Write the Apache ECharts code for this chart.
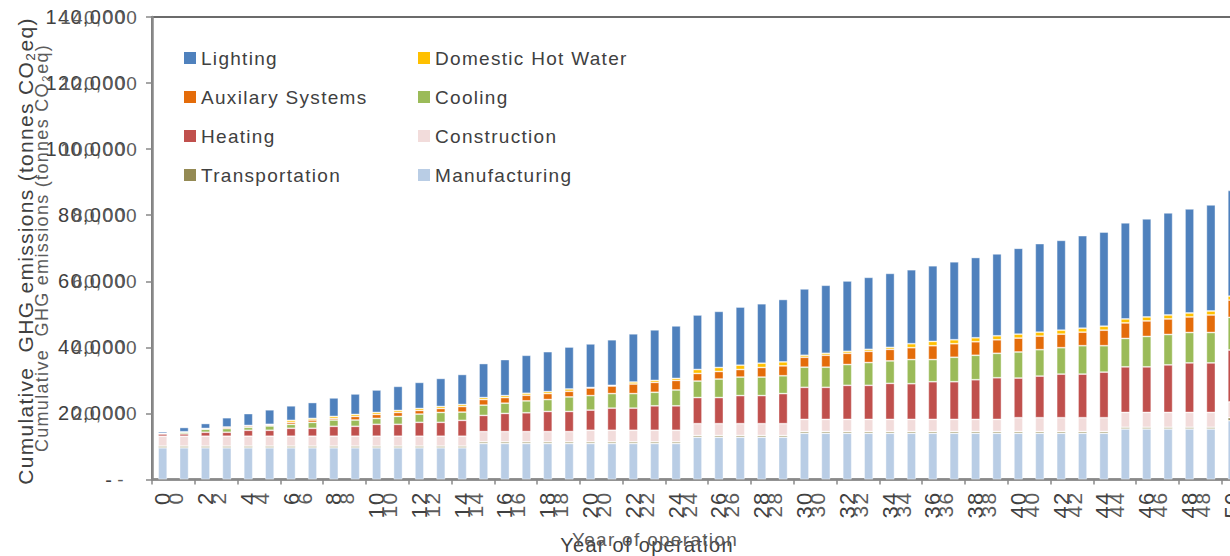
<!DOCTYPE html>
<html>
<head>
<meta charset="utf-8">
<title>Cumulative GHG emissions by year of operation</title>
<script src="https://cdn.jsdelivr.net/npm/echarts@6/dist/echarts.min.js"></script>
<style>
  html, body { margin: 0; padding: 0; background: #ffffff; }
  #chart { width: 1230px; height: 556px; }
  #chart text { letter-spacing: 1.3px; }
</style>
</head>
<body>
<div id="chart"></div>
<script>
// Year of operation (category axis)
const years = ['0','1','2','3','4','5','6','7','8','9','10','11','12','13','14','15','16','17','18','19',
  '20','21','22','23','24','25','26','27','28','29','30','31','32','33','34','35','36','37','38','39',
  '40','41','42','43','44','45','46','47','48','49','50'];

// Value-axis tick labels (0 to 140,000 by 20,000)
const yTickLabels = ['-', '20,000', '40,000', '60,000', '80,000', '100,000', '120,000', '140,000'];

// Cumulative emissions per source, tonnes CO2eq
const manufacturing = [9600,9600,9600,9600,9600,9600,9600,9600,9600,9600,9600,9600,9600,9600,9600,
  10900,10900,10900,10900,10900,10900,10900,10900,10900,10900,
  12800,12800,12800,12800,12800,
  14000,14000,14000,14000,14000,14000,14000,14000,14000,14000,14000,14000,14000,14000,14000,
  15300,15300,15300,15300,15300,17800];
const transportation = [500,500,500,500,500,500,500,500,500,500,500,500,500,500,500,500,500,500,500,500,
  500,500,500,500,500,500,500,500,500,500,500,500,500,500,500,500,500,500,500,500,
  500,500,500,500,500,500,500,500,500,500,900];
const construction = [3000,3000,3000,3000,3000,3000,3000,3000,3000,3000,3000,3000,3000,3000,3000,
  3100,3100,3100,3100,3100,3500,3500,3500,3500,3500,3600,3600,3600,3600,3600,
  3700,3700,3700,3700,3700,3700,3700,3700,3700,3700,4200,4200,4200,4200,4200,
  4500,4500,4500,4500,4500,4800];
const heating = [700,700,1200,1200,1800,1800,2400,2400,3000,3000,3600,3600,4200,4200,4800,
  4900,5500,5700,6100,6100,6100,6700,6700,7400,7400,7900,7900,8500,8500,9100,
  9700,9700,10300,10300,10900,10800,11400,11400,12000,12600,12000,12600,13200,13200,13800,
  13800,13800,14400,15000,15000,15700];
const cooling = [100,500,900,1100,900,1300,1200,1800,1900,1900,1800,2400,2500,3000,2500,
  3100,3100,3600,3600,4400,4400,4400,4400,4100,4800,5000,5600,5600,5600,5400,
  6100,6100,6300,6900,6800,7300,6700,7400,7400,7400,7900,8000,8000,8600,8000,
  8600,9200,9200,9200,9200,9900];
const auxiliary = [50,100,150,400,400,300,600,700,500,1100,1200,1200,1100,1200,1700,
  1700,1700,1700,1800,1700,2300,2300,2900,3000,2900,2300,2300,2300,2900,3000,
  3000,3600,3400,3400,3500,3600,4200,4100,4100,4100,4200,4100,4100,4100,4700,
  4700,4700,4700,4700,5300,5200];
const hotWater = [30,50,100,100,150,200,600,500,600,600,600,600,600,600,600,
  600,600,600,600,700,150,200,600,600,600,1200,1200,1300,1300,1200,
  600,600,600,600,600,1200,1300,1200,1200,1200,1200,1200,1200,1200,1200,
  1200,1200,1200,1200,1200,1200];
const lighting = [500,1300,1500,2800,3600,4400,4400,4800,5600,6200,6800,7300,7900,8500,9100,
  10300,10900,11500,12100,12700,13200,13800,14600,15300,15900,16500,17000,17600,18000,18900,
  20100,20600,21300,21800,22400,22400,22900,23600,24300,24800,26000,26800,27200,28000,28500,
  29100,29700,30900,31500,32100,32000];

// Stack order, bottom to top
const stackNames = ['Manufacturing', 'Transportation', 'Construction', 'Heating',
  'Cooling', 'Auxilary Systems', 'Domestic Hot Water', 'Lighting'];
const stackData = [manufacturing, transportation, construction, heating,
  cooling, auxiliary, hotWater, lighting];
const stackColors = ['#B9CDE5', '#948A54', '#F2DCDB', '#C0504D',
  '#9BBB59', '#E46C0A', '#FFC000', '#4F81BD'];

const FONT = "'Liberation Sans', Arial, sans-serif";
const INK = '#404040';
const SHADOW_INK = '#5c5c5c';
const AXIS_GREY = '#898989';

const yLabel = v => {
  const t = yTickLabels[Math.round(v / 20000)];
  return v === 0 ? t + '\u00a0\u00a0' : t;
};

const chart = echarts.init(document.getElementById('chart'), null, { renderer: 'svg' });

const option = {
  animation: false,
  backgroundColor: '#ffffff',
  grid: [
    { left: 152, right: -13, top: 17, bottom: 76.5, show: true,
      borderColor: '#6b6b6b', borderWidth: 2, backgroundColor: 'transparent',
      containLabel: false, outerBoundsMode: 'none' },
    { left: 165, right: -26, top: 17, bottom: 76.5,
      containLabel: false, outerBoundsMode: 'none' }
  ],
  legend: [
    {
      data: ['Lighting', 'Auxilary Systems', 'Heating', 'Transportation'],
      orient: 'vertical', left: 184, top: 48, padding: 0,
      itemWidth: 12, itemHeight: 12, itemGap: 19, icon: 'rect',
      itemStyle: { borderWidth: 0 },
      textStyle: { fontFamily: FONT, fontSize: 19, color: INK, lineHeight: 20 },
      selectedMode: false
    },
    {
      data: ['Domestic Hot Water', 'Cooling', 'Construction', 'Manufacturing'],
      orient: 'vertical', left: 418, top: 48, padding: 0,
      itemWidth: 12, itemHeight: 12, itemGap: 19, icon: 'rect',
      itemStyle: { borderWidth: 0 },
      textStyle: { fontFamily: FONT, fontSize: 19, color: INK, lineHeight: 20 },
      selectedMode: false
    }
  ],
  xAxis: [
    {
      type: 'category', gridIndex: 0, data: years,
      axisLine: { show: true, lineStyle: { color: AXIS_GREY, width: 2.5 } },
      axisTick: { show: true, length: 5, lineStyle: { color: AXIS_GREY, width: 1.5 } },
      axisLabel: { interval: 1, rotate: 90, margin: 12, fontFamily: FONT, fontSize: 22, color: INK },
      splitLine: { show: false }
    },
    {
      type: 'category', gridIndex: 1, data: years,
      axisLine: { show: false }, axisTick: { show: false },
      axisLabel: { interval: 1, rotate: 90, margin: 12, fontFamily: FONT, fontSize: 21, color: SHADOW_INK },
      splitLine: { show: false }
    }
  ],
  yAxis: [
    {
      type: 'value', gridIndex: 0, min: 0, max: 140000, interval: 20000,
      axisLine: { show: true, lineStyle: { color: AXIS_GREY, width: 2.5 } },
      axisTick: { show: true, length: 6, lineStyle: { color: AXIS_GREY, width: 1.5 } },
      axisLabel: { formatter: yLabel, margin: 25, fontFamily: FONT, fontSize: 20, color: INK },
      splitLine: { show: false }
    },
    {
      type: 'value', gridIndex: 1, min: 0, max: 140000, interval: 20000,
      axisLine: { show: false }, axisTick: { show: false },
      axisLabel: { formatter: yLabel, margin: 27, fontFamily: FONT, fontSize: 19, color: SHADOW_INK },
      splitLine: { show: false }
    }
  ],
  series: stackNames.map((name, i) => ({
    name,
    type: 'bar',
    stack: 'ghg',
    xAxisIndex: 0,
    yAxisIndex: 0,
    barWidth: 9,
    data: stackData[i],
    itemStyle: { color: stackColors[i], borderColor: 'rgba(255,255,255,0.5)', borderWidth: 0.8 },
    emphasis: { disabled: true }
  })),
  graphic: [
    {
      type: 'text', x: 25, y: 251, rotation: Math.PI / 2,
      style: { text: 'Cumulative  GHG emissions (tonnes CO\u2082eq)', fill: INK,
        fontFamily: FONT, fontSize: 21, align: 'center', verticalAlign: 'middle' }
    },
    {
      type: 'text', x: 41.5, y: 248, rotation: Math.PI / 2,
      style: { text: 'Cumulative  GHG emissions (tonnes CO\u2082eq)', fill: SHADOW_INK,
        fontFamily: FONT, fontSize: 18, align: 'center', verticalAlign: 'middle' }
    },
    {
      type: 'text', x: 647, y: 545,
      style: { text: 'Year of operation', fill: INK,
        fontFamily: FONT, fontSize: 20, align: 'center', verticalAlign: 'middle' }
    },
    {
      type: 'text', x: 655, y: 539.5,
      style: { text: 'Year of operation', fill: SHADOW_INK,
        fontFamily: FONT, fontSize: 19, align: 'center', verticalAlign: 'middle' }
    }
  ]
};

chart.setOption(option);
</script>
</body>
</html>
